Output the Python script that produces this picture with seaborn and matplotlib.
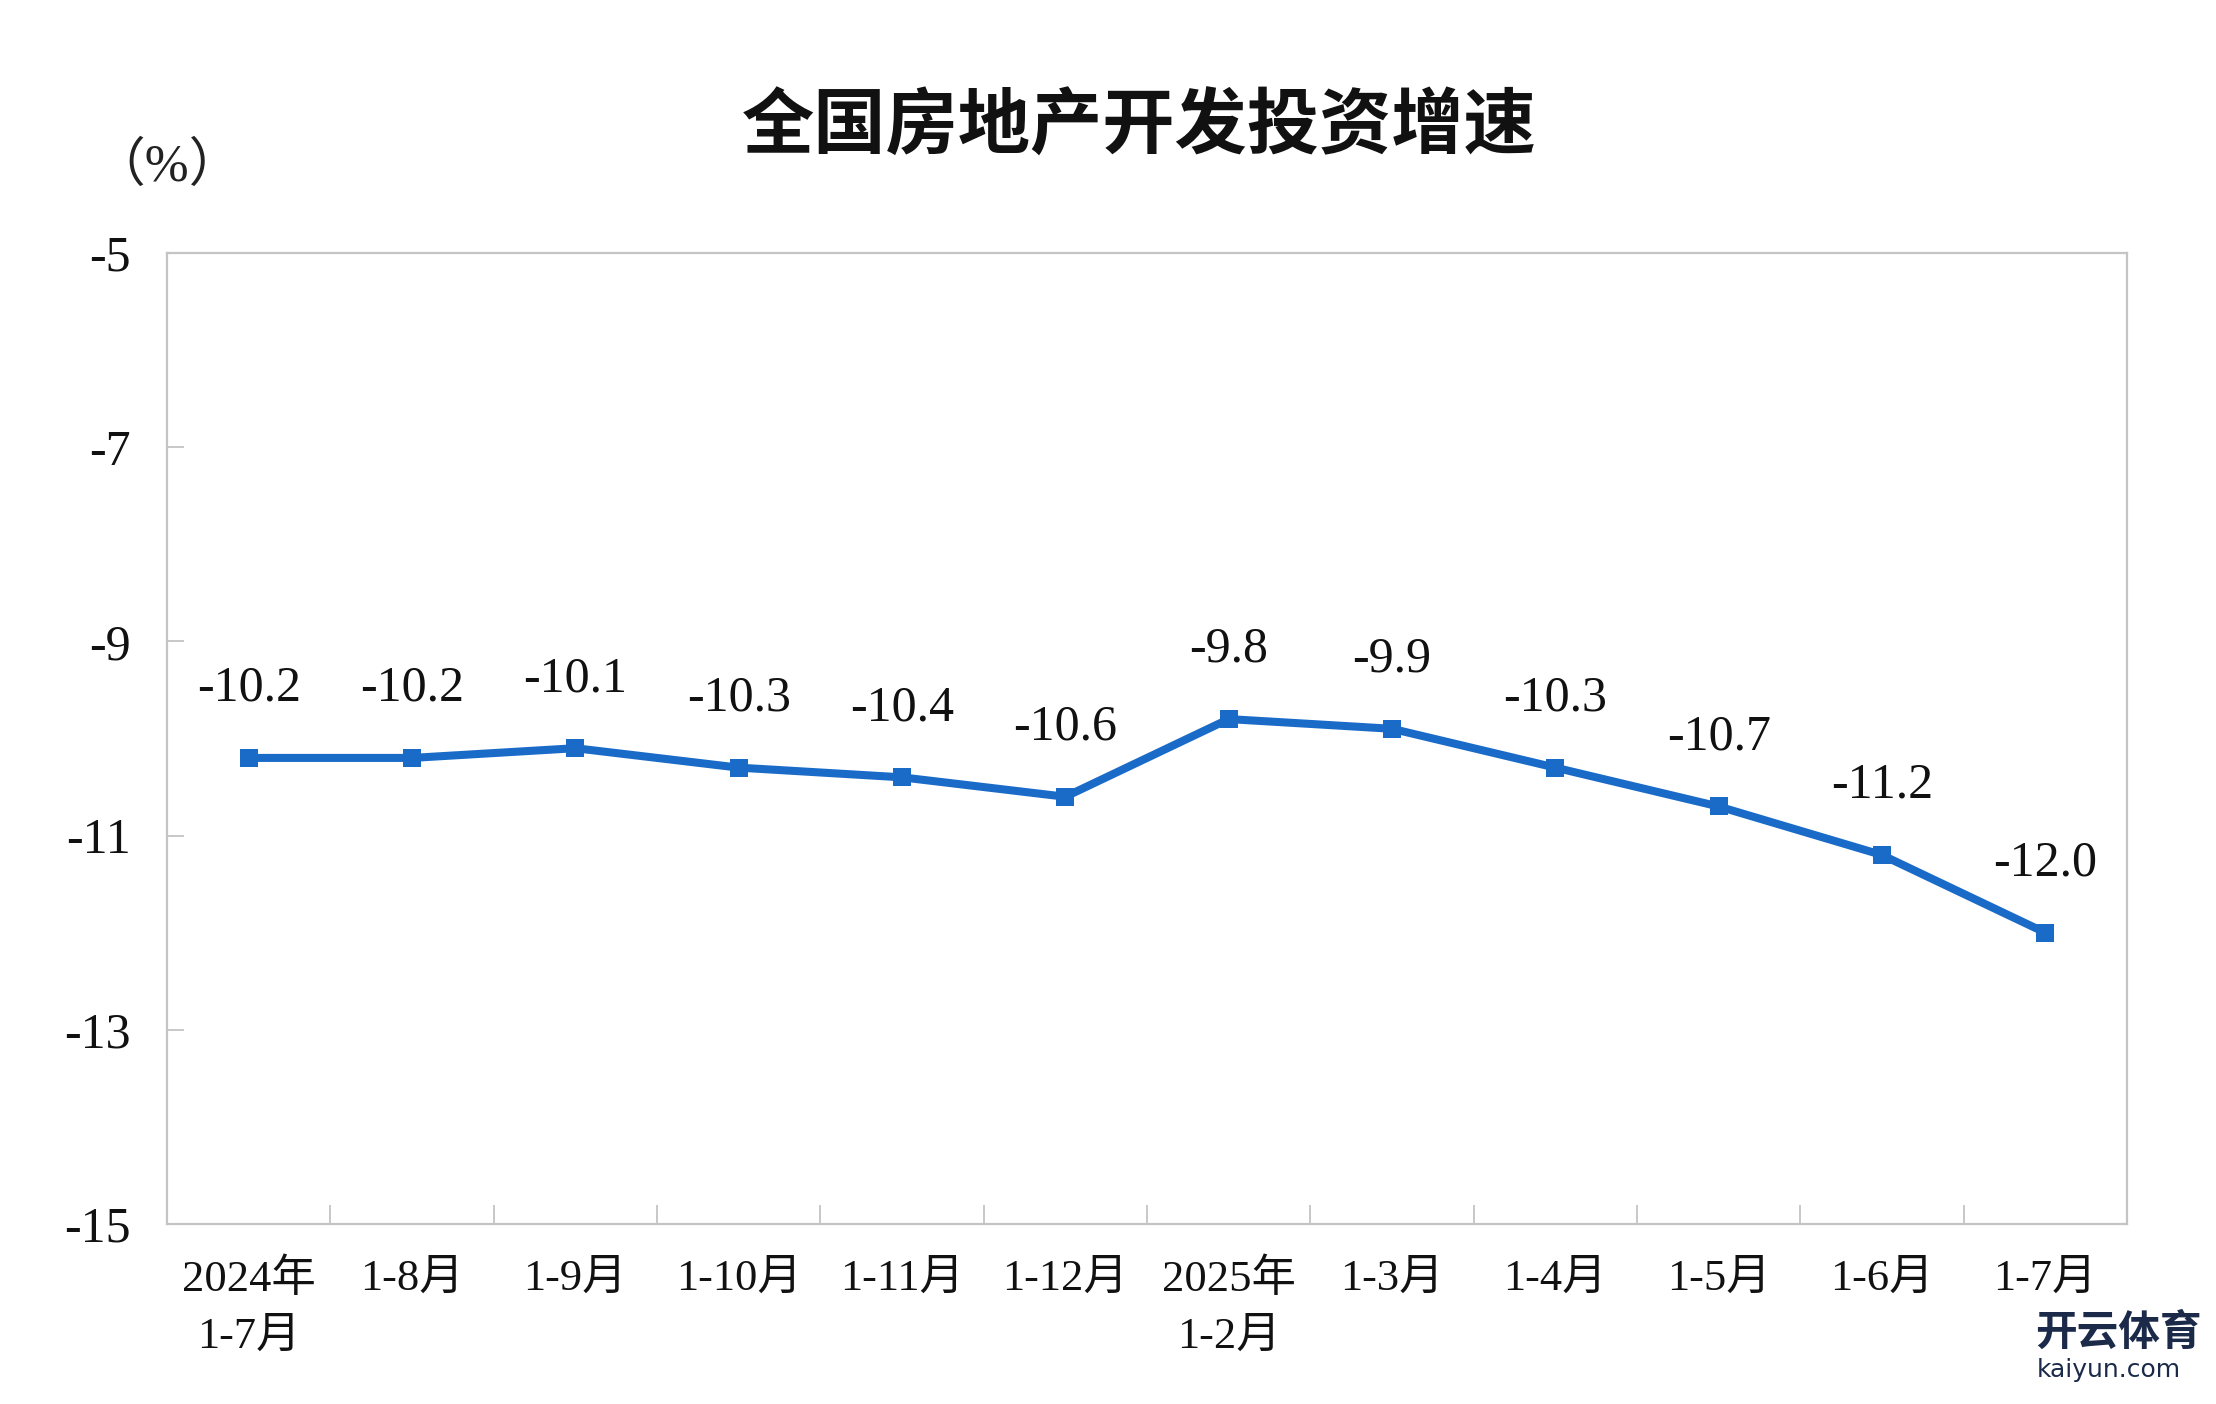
import numpy as np
import pandas as pd
import matplotlib
matplotlib.use("Agg")
import matplotlib.pyplot as plt
import seaborn as sns

categories = ["2024年\n1-7月", "1-8月", "1-9月", "1-10月", "1-11月", "1-12月",
              "2025年\n1-2月", "1-3月", "1-4月", "1-5月", "1-6月", "1-7月"]
values = [-10.2, -10.2, -10.1, -10.3, -10.4, -10.6, -9.8, -9.9, -10.3, -10.7, -11.2, -12.0]
yticks = [-5, -7, -9, -11, -13, -15]
title = "全国房地产开发投资增速"
unit_label = "（%）"

sns.set_theme(style="white")
FAM = ["Liberation Serif", "Noto Sans CJK SC", "DejaVu Sans"]
plt.rcParams["font.family"] = FAM

W, H = 2216, 1404
fig = plt.figure(figsize=(W / 100, H / 100), dpi=100)
left, right, top, bottom = 167, 2127, 253, 1224
ax = fig.add_axes([left / W, 1 - bottom / H, (right - left) / W, (bottom - top) / H])

df = pd.DataFrame({"cat": categories, "val": values})
line_color = "#1a6bc8"
sns.lineplot(data=df, x="cat", y="val", ax=ax, sort=False, color=line_color,
             linewidth=5.8, marker="s", markersize=12.5, markeredgewidth=0,
             markerfacecolor=line_color)

ax.set_xlim(-0.5, len(categories) - 0.5)
ax.set_ylim(-15, -5)
ax.set_yticks(yticks)
ax.set_yticklabels([str(t) for t in yticks])
ax.set_xlabel("")
ax.set_ylabel("")

ax.set_xticks(np.arange(len(categories)))
ax.set_xticklabels(categories)
ax.set_xticks(np.arange(0.5, len(categories) - 1, 1), minor=True)

spine_color = "#c4c4c4"
for s in ax.spines.values():
    s.set_visible(True)
    s.set_color(spine_color)
    s.set_linewidth(1.6)

ax.tick_params(axis="x", which="major", length=0, pad=25, labelsize=32, labelcolor="#111111")
ax.tick_params(axis="x", which="minor", direction="in", length=14, width=1.3,
               color=spine_color, bottom=True)
ax.tick_params(axis="y", which="major", direction="in", length=12, width=1.3,
               color=spine_color, pad=26, labelsize=36, labelcolor="#111111", left=True)
for lab in ax.get_xticklabels():
    lab.set_linespacing(1.52)
    lab.set_family(FAM)
for lab in ax.get_yticklabels():
    lab.set_family(FAM)

for i, v in enumerate(values):
    ax.annotate(f"{v:.1f}", (i, v), xytext=(0, 50), textcoords="offset points",
                ha="center", va="center", fontsize=36, color="#111111", family=FAM)

fig.text(1139 / W, 1 - 127 / H, title, ha="center", va="center", fontsize=52,
         fontweight="bold", color="#111111", family=["Noto Sans CJK SC"])
fig.text(167 / W, 1 - 167 / H, unit_label, ha="center", va="center", fontsize=38,
         color="#222222", family=FAM)

# watermark text
fig.text(2035 / W, 1 - 1333 / H, "开云体育", ha="left", va="center", fontsize=30,
         fontweight="bold", color="#1c2a4a", family=["Noto Sans CJK SC"])
fig.text(2037 / W, 1 - 1370 / H, "kaiyun.com", ha="left", va="center", fontsize=18,
         color="#1c2a4a", family=["DejaVu Sans"])

fig.savefig("out.png", dpi=100, facecolor="white")
